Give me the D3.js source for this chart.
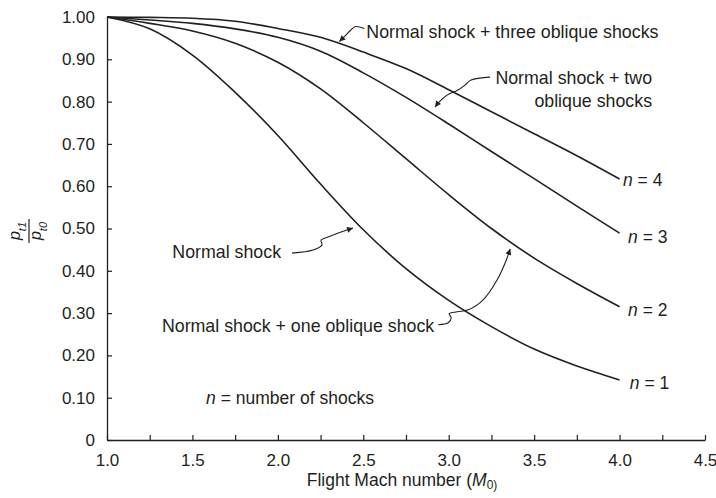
<!DOCTYPE html>
<html>
<head>
<meta charset="utf-8">
<script src="https://cdn.jsdelivr.net/npm/d3@7"></script>
<style>
  body { margin: 0; background: #fff; }
  svg text { font-family: "Liberation Sans", Arial, Helvetica, sans-serif; fill: #231f20; }
</style>
</head>
<body>
<svg id="chart" width="716" height="498"></svg>
<script>
var machs = [1.0, 1.25, 1.5, 1.75, 2.0, 2.25, 2.5, 2.75, 3.0, 3.25, 3.5, 3.75, 4.0];

// total pressure recovery pt1/pt0 for n shocks
var recoveryN1 = [1.0, 0.972, 0.91, 0.822, 0.72, 0.605, 0.497, 0.405, 0.33, 0.268, 0.215, 0.175, 0.142];
var recoveryN2 = [1.0, 0.985, 0.967, 0.938, 0.893, 0.83, 0.75, 0.665, 0.58, 0.50, 0.43, 0.37, 0.315];
var recoveryN3 = [1.0, 0.993, 0.985, 0.972, 0.952, 0.919, 0.868, 0.81, 0.747, 0.682, 0.618, 0.553, 0.489];
var recoveryN4 = [1.0, 0.999, 0.997, 0.99, 0.973, 0.952, 0.917, 0.878, 0.828, 0.776, 0.724, 0.672, 0.617];

var seriesNames = ["n = 1", "n = 2", "n = 3", "n = 4"];

var xTickValues = [1.0, 1.25, 1.5, 1.75, 2.0, 2.25, 2.5, 2.75, 3.0, 3.25, 3.5, 3.75, 4.0, 4.25, 4.5];
var xTickLabels = ["1.0", "", "1.5", "", "2.0", "", "2.5", "", "3.0", "", "3.5", "", "4.0", "", "4.5"];
var yTickValues = [0, 0.1, 0.2, 0.3, 0.4, 0.5, 0.6, 0.7, 0.8, 0.9, 1.0];
var yTickLabels = ["0", "0.10", "0.20", "0.30", "0.40", "0.50", "0.60", "0.70", "0.80", "0.90", "1.00"];

var svg = d3.select("#chart");
var ink = "#231f20";

var x = d3.scaleLinear().domain([1.0, 4.5]).range([107, 705]);
var y = d3.scaleLinear().domain([0, 1.0]).range([440, 17]);

// axes, ticks point inward
var xAxis = d3.axisBottom(x)
	.tickValues(xTickValues)
	.tickSize(-5)
	.tickSizeOuter(0)
	.tickPadding(14)
	.tickFormat(function(d, i){ return xTickLabels[i]; });

var yAxis = d3.axisLeft(y)
	.tickValues(yTickValues)
	.tickSize(-5)
	.tickSizeOuter(0)
	.tickPadding(12)
	.tickFormat(function(d, i){ return yTickLabels[i]; });

var gx = svg.append("g").attr("transform", "translate(0,440)").call(xAxis);
var gy = svg.append("g").attr("transform", "translate(107,0)").call(yAxis);

[gx, gy].forEach(function(g){
	g.select(".domain").attr("stroke", ink).attr("stroke-width", 1.3);
	g.selectAll(".tick line").attr("stroke", ink).attr("stroke-width", 1.2);
	g.selectAll(".tick text")
		.style("font-family", '"Liberation Sans", Arial, sans-serif')
		.style("font-size", "17px")
		.attr("fill", ink);
});

// curves
var line = d3.line()
	.x(function(d){ return x(d[0]); })
	.y(function(d){ return y(d[1]); })
	.curve(d3.curveCatmullRom.alpha(0.5));

[recoveryN1, recoveryN2, recoveryN3, recoveryN4].forEach(function(vals){
	svg.append("path")
		.datum(machs.map(function(m, i){ return [m, vals[i]]; }))
		.attr("d", line)
		.attr("fill", "none")
		.attr("stroke", ink)
		.attr("stroke-width", 1.6);
});

// n = k labels at curve ends
var endLabelPos = [[4.06, 0.12], [4.05, 0.292], [4.05, 0.466], [4.02, 0.6]];
seriesNames.forEach(function(name, i){
	var t = svg.append("text")
		.attr("x", x(endLabelPos[i][0]))
		.attr("y", y(endLabelPos[i][1]))
		.style("font-size", "17.5px");
	t.append("tspan").style("font-style", "italic").text("n");
	t.append("tspan").text(name.slice(1));
});

// arrow marker
svg.append("defs").append("marker")
	.attr("id", "arrow")
	.attr("viewBox", "0 0 10 10")
	.attr("refX", 10).attr("refY", 5)
	.attr("markerWidth", 9).attr("markerHeight", 6)
	.attr("markerUnits", "userSpaceOnUse")
	.attr("orient", "auto")
	.append("path")
	.attr("d", "M0,0L10,5L0,10z")
	.attr("fill", ink);

// annotations: tip on the curve in data units, leader drawn back from the tip in px
var annotations = [
	{ tip: [2.36, 0.942], lines: ["Normal shock + three oblique shocks"], anchor: "start", tx: 27, ty: -4,
	  leader: [[25, -13], [16, -15], [11, -11], [6, -6], [0, 0]] },
	{ tip: [2.92, 0.787], lines: ["Normal shock + two", "oblique shocks"], anchor: "end", tx: 217, ty: -23,
	  leader: [[55, -30], [36, -27], [30, -22], [23, -17], [12, -12], [4, -5], [0, 0]] },
	{ tip: [2.44, 0.501], lines: ["Normal shock"], anchor: "end", tx: -72, ty: 30,
	  leader: [[-61, 25], [-40, 22], [-31, 17], [-32, 12], [-25, 9], [-12, 4], [0, 0]] },
	{ tip: [3.36, 0.452], lines: ["Normal shock + one oblique shock"], anchor: "end", tx: -76, ty: 83,
	  leader: [[-72, 76], [-62, 74], [-59, 69], [-61, 65], [-53, 63], [-42, 61], [-27, 51], [-13, 31], [-5, 14], [0, 0]] }
];

var leaderLine = d3.line().curve(d3.curveCatmullRom);

annotations.forEach(function(a){
	var tx0 = x(a.tip[0]), ty0 = y(a.tip[1]);
	svg.append("path")
		.attr("d", leaderLine(a.leader.map(function(p){ return [tx0 + p[0], ty0 + p[1]]; })))
		.attr("fill", "none")
		.attr("stroke", ink)
		.attr("stroke-width", 1.1)
		.attr("marker-end", "url(#arrow)");
	a.lines.forEach(function(s, i){
		svg.append("text")
			.attr("x", tx0 + a.tx)
			.attr("y", ty0 + a.ty + i * 23)
			.attr("text-anchor", a.anchor)
			.style("font-size", "17.8px")
			.text(s);
	});
});

// note
var note = svg.append("text").attr("x", x(1.58)).attr("y", y(0.085)).style("font-size", "17.5px");
note.append("tspan").style("font-style", "italic").text("n");
note.append("tspan").text(" = number of shocks");

// x axis title
var xt = svg.append("text")
	.attr("x", 402).attr("y", 486)
	.attr("text-anchor", "middle")
	.style("font-size", "17.5px");
xt.append("tspan").text("Flight Mach number (");
xt.append("tspan").style("font-style", "italic").text("M");
xt.append("tspan").attr("baseline-shift", "-3").style("font-size", "12px").text("0)");

// y axis title: pt1 / pt0 as a fraction, rotated
var yt = svg.append("g").attr("transform", "translate(29,231) rotate(-90)");
var num = yt.append("text").attr("x", 0).attr("y", -9.5).attr("text-anchor", "middle").style("font-size", "16px");
num.append("tspan").style("font-style", "italic").text("p");
num.append("tspan").attr("baseline-shift", "sub").style("font-size", "11px").style("font-style", "italic").text("t1");
var den = yt.append("text").attr("x", 0).attr("y", 12).attr("text-anchor", "middle").style("font-size", "16px");
den.append("tspan").style("font-style", "italic").text("p");
den.append("tspan").attr("baseline-shift", "sub").style("font-size", "11px").style("font-style", "italic").text("t0");
yt.append("line").attr("x1", -12).attr("x2", 12).attr("y1", 0).attr("y2", 0)
	.attr("stroke", ink).attr("stroke-width", 1.2);
</script>
</body>
</html>
